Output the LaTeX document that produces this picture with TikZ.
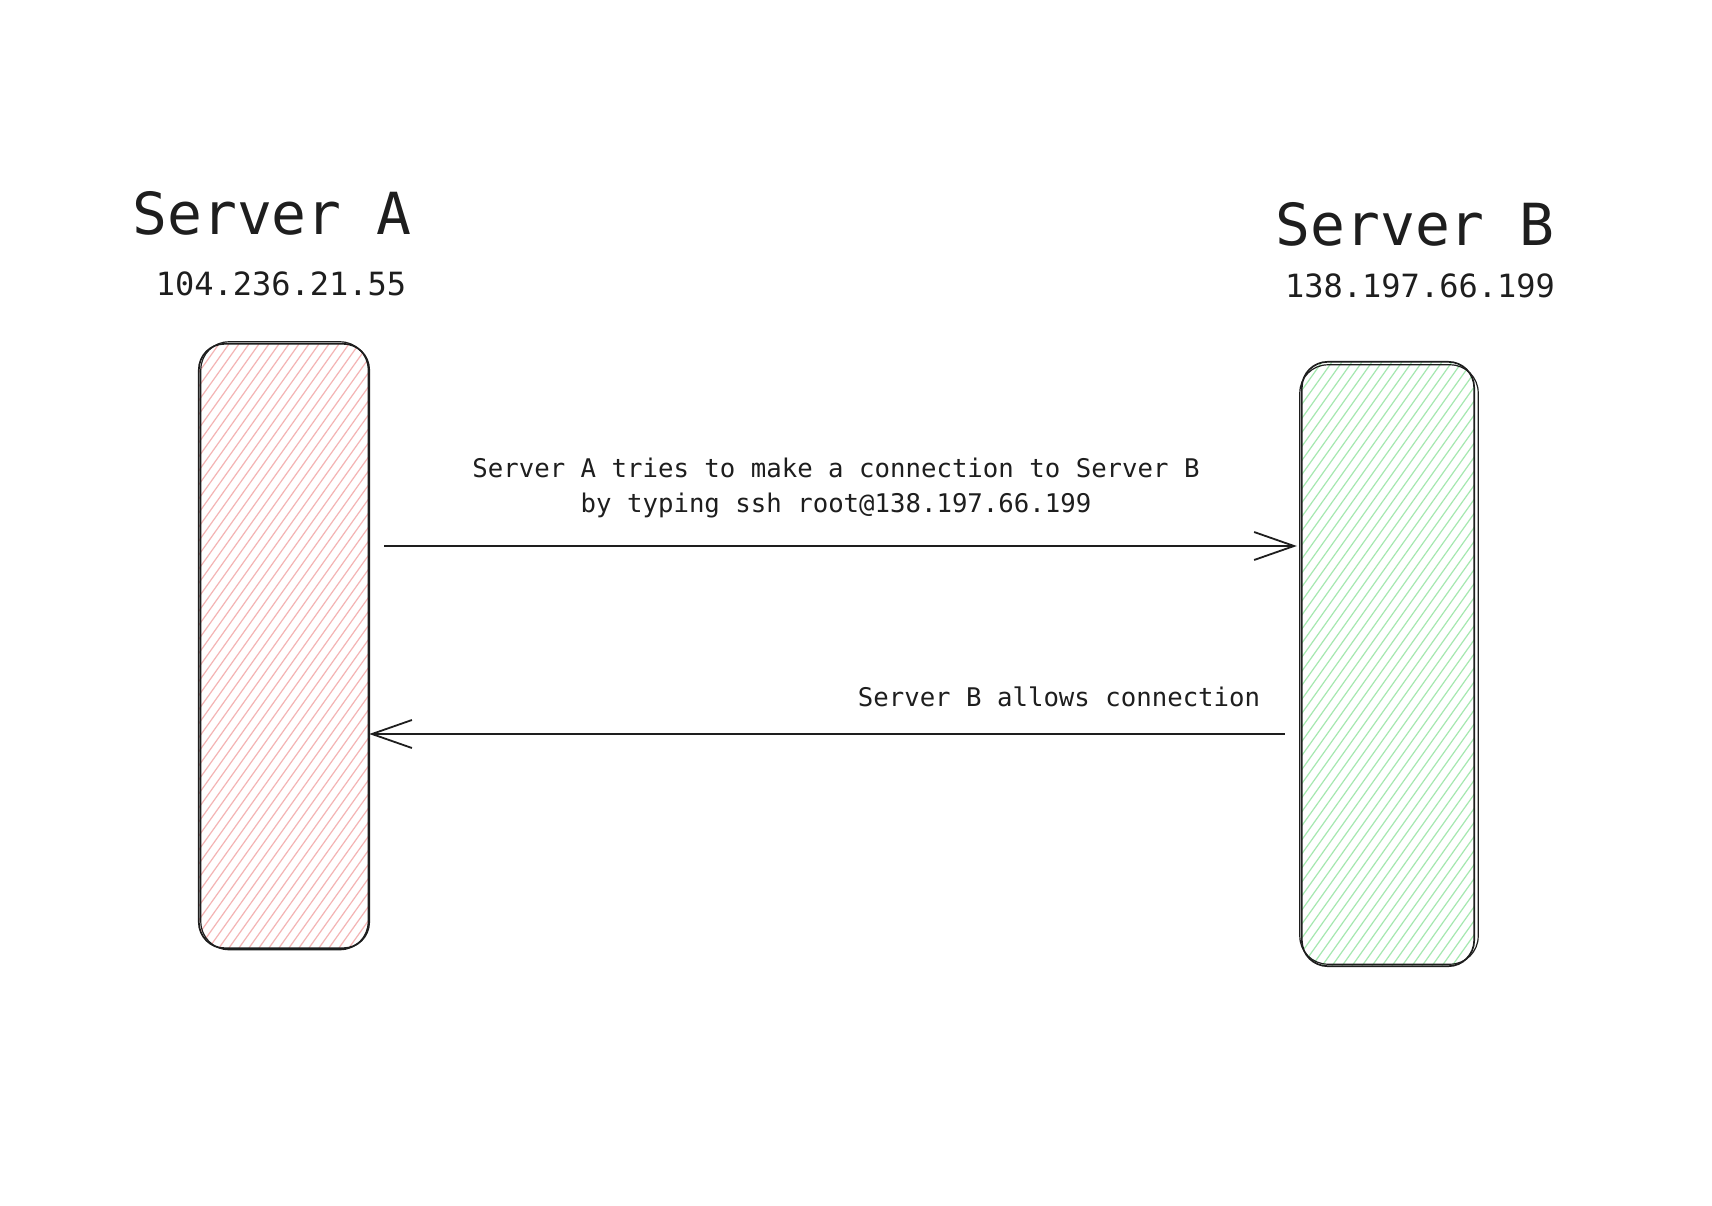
\documentclass[tikz,border=0pt]{standalone}
\usepackage{fontspec}
\setmonofont{DejaVu Sans Mono}
\usetikzlibrary{arrows.meta,calc}
\definecolor{ink}{HTML}{1E1E1E}
\definecolor{hatchred}{HTML}{F4B4B4}
\definecolor{hatchgreen}{HTML}{A6E8B0}
\tikzset{
  serverbox/.style={rectangle, rounded corners=26pt, minimum width=170pt, minimum height=604pt, inner sep=0pt},
  outline/.style={draw=ink, line width=1.7pt, rounded corners=26pt},
  outlinetwo/.style={draw=ink, line width=1.2pt, rounded corners=28pt},
  title/.style={text=ink, font=\ttfamily\fontsize{58}{66}\selectfont, inner sep=0pt},
  ip/.style={text=ink, font=\ttfamily\fontsize{32}{38}\selectfont, inner sep=0pt},
  lbl/.style={text=ink, font=\ttfamily\fontsize{25.7}{31}\selectfont, inner sep=0pt, anchor=base},
  conn/.style={draw=ink, line width=1.8pt, -{Straight Barb[length=40pt,width=28pt,line width=1.8pt]}},
  hatchA/.style={draw=hatchred, line width=1.2pt},
  hatchB/.style={draw=hatchgreen, line width=1.2pt}
}
\begin{document}
\begin{tikzpicture}[x=1pt,y=-1pt]
\useasboundingbox (0,0) rectangle (1712,1206);
\fill[white] (0,0) rectangle (1712,1206);

% server boxes
\node[serverbox] (A) at (284,646) {};
\node[serverbox, minimum width=172pt] (B) at (1388,664) {};

% hatching A
\begin{scope}
  \clip[rounded corners=26pt] (A.north west) rectangle (A.south east);
  \foreach \i in {-440,-430,...,180} {
    \draw[hatchA] ($(A.south west)+(\i,0)$) -- ++(430,-604);
  }
\end{scope}
% hatching B
\begin{scope}
  \clip[rounded corners=26pt] (B.north west) rectangle (B.south east);
  \foreach \i in {-440,-430,...,180} {
    \draw[hatchB] ($(B.south west)+(\i,0)$) -- ++(430,-604);
  }
\end{scope}

% outlines (sketchy double strokes)
\draw[outline] (A.north west) rectangle (A.south east);
\draw[outlinetwo] ($(A.north west)+(2,-2)$) rectangle ($(A.south east)+(-1,1.5)$);
\draw[outline] (B.north west) rectangle (B.south east);
\draw[outlinetwo] ($(B.north west)+(-2,3)$) rectangle ($(B.south east)+(4,-2)$);

% titles
\node[title] (tA) at (272,213) {Server A};
\node[ip] (ipA) at (281,284) {104.236.21.55};
\node[title] (tB) at (1415,224) {Server B};
\node[ip] (ipB) at (1420,286) {138.197.66.199};

% connectors
\coordinate (y1) at (0,546);
\coordinate (y2) at (0,734);
\draw[conn] ([xshift=15pt]A.east |- y1) -- ([xshift=-5pt]B.west |- y1);
\draw[conn] ([xshift=-17pt]B.west |- y2) -- (A.east |- y2);

% labels
\node[lbl] (l1) at (836,477) {Server A tries to make a connection to Server B};
\node[lbl] (l2) at (836,512) {by typing ssh root@138.197.66.199};
\node[lbl] (l3) at (1059,706) {Server B allows connection};
\end{tikzpicture}
\end{document}
